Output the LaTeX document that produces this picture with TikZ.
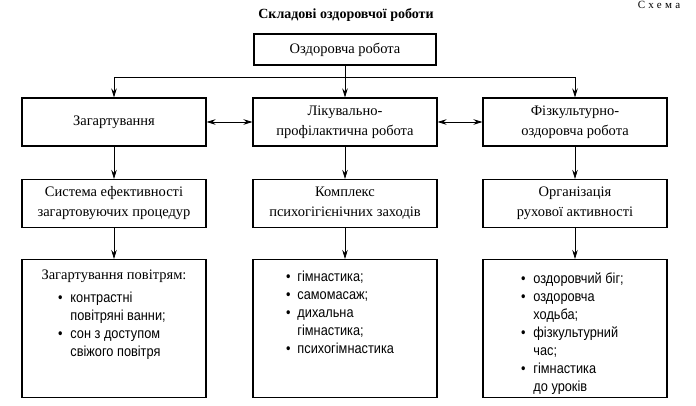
\documentclass[tikz,border=0pt]{standalone}
\usepackage{fontspec}
\setmainfont{Liberation Serif}
\newfontfamily\listfont[FakeStretch=0.88]{Liberation Sans}
\usetikzlibrary{arrows.meta}
\begin{document}
\begin{tikzpicture}[x=1pt,y=1pt,
  box/.style={draw,line width=1.1pt,minimum width=184pt,minimum height=48pt,inner sep=2pt,align=center,font=\fontsize{14.5}{20}\selectfont},
  listbox/.style={draw,line width=1.1pt,anchor=north,inner sep=0pt,font=\fontsize{14.5}{18}\selectfont},
  link/.style={line width=0.8pt,-{Stealth[length=9pt,width=5.5pt]}},
  both/.style={line width=0.8pt,{Stealth[length=9pt,width=5.5pt]}-{Stealth[length=9pt,width=5.5pt]}}]
\useasboundingbox (0,0) rectangle (696,-406);
\node[font=\bfseries\fontsize{14}{16}\selectfont] (title) at (346,-15) {Складові оздоровчої роботи};
\node[font=\fontsize{11}{12}\selectfont\addfontfeatures{LetterSpace=30}] (scheme) at (659,-5) {Схема};
% top level
\node[box,minimum width=182pt,minimum height=31pt] (health) at (345,-49.5) {Оздоровча робота};
\coordinate (fork) at (345,-77);
% first row
\node[box] (harden) at (114,-122) {Загартування};
\node[box] (care) at (345,-122) {Лікувально-\\профілактична робота};
\node[box] (sport) at (575,-122) {Фізкультурно-\\оздоровча робота};
% second row
\node[box] (system) at (114,-203.5) {Система ефективності\\загартовуючих процедур};
\node[box] (complex) at (345,-203.5) {Комплекс\\психогігієнічних заходів};
\node[box] (motion) at (575,-203.5) {Організація\\рухової активності};
% third row
\node[listbox] (air) at (114,-259) {\parbox[t][138pt][t]{184pt}{\vspace{10pt}\centering Загартування повітрям:\par\vspace{5pt}\raggedright\hspace*{36pt}{\listfont\fontsize{14.5}{18}\selectfont\begin{tabular}[t]{@{}l@{\hspace{8pt}}l@{}}
  •&контрастні\\ &повітряні ванни;\\ •&сон з доступом\\ &свіжого повітря\end{tabular}}}};
\node[listbox] (hygiene) at (345,-259) {\parbox[t][138pt][t]{184pt}{\vspace{9pt}\raggedright\hspace*{33pt}{\listfont\fontsize{14.5}{18}\selectfont\begin{tabular}[t]{@{}l@{\hspace{7pt}}l@{}}
  •&гімнастика;\\ •&самомасаж;\\ •&дихальна\\ &гімнастика;\\ •&психогімнастика\end{tabular}}}};
\node[listbox] (activity) at (575,-259) {\parbox[t][138pt][t]{184pt}{\vspace{11pt}\raggedright\hspace*{38pt}{\listfont\fontsize{14.5}{18}\selectfont\begin{tabular}[t]{@{}l@{\hspace{8pt}}l@{}}
  •&оздоровчий біг;\\ •&оздоровча\\ &ходьба;\\ •&фізкультурний\\ &час;\\ •&гімнастика\\ &до уроків\end{tabular}}}};
% connectors
\draw[link] (health) -- (care);
\draw[link] (fork) -| (harden);
\draw[link] (fork) -| (sport);
\draw[both] (harden) -- (care);
\draw[both] (care) -- (sport);
\draw[link] (harden) -- (system);
\draw[link] (care) -- (complex);
\draw[link] (sport) -- (motion);
\draw[link] (system) -- (air);
\draw[link] (complex) -- (hygiene);
\draw[link] (motion) -- (activity);
\end{tikzpicture}
\end{document}
